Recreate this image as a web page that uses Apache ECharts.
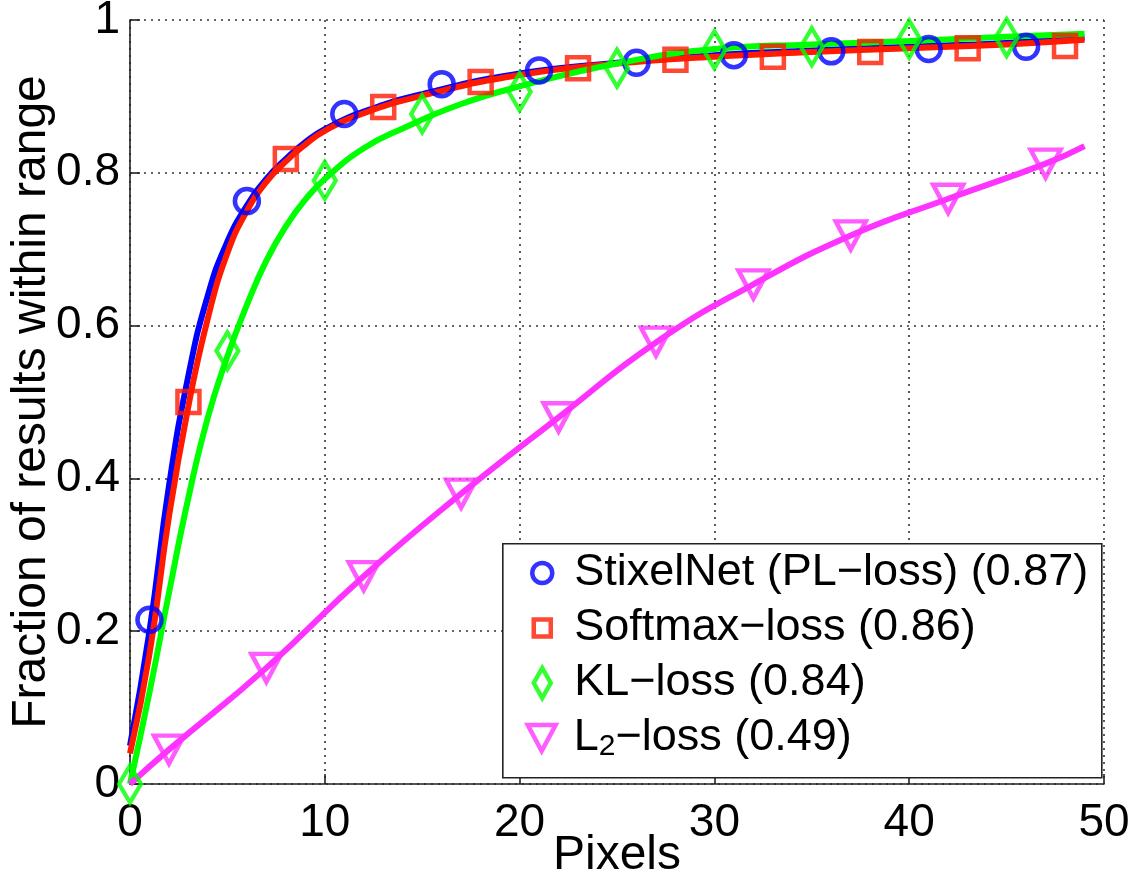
<!DOCTYPE html>
<html><head><meta charset="utf-8">
<script src="https://cdn.jsdelivr.net/npm/echarts@6/dist/echarts.min.js"></script>
<style>html,body{margin:0;padding:0;background:#fff}#c{width:1132px;height:880px}</style>
</head><body><div id="c"></div>
<script>
// ---- data ----
const xTickLabels = ['0', '10', '20', '30', '40', '50'];
const yTickLabels = ['0', '0.2', '0.4', '0.6', '0.8', '1'];
const seriesNames = ['StixelNet (PL−loss) (0.87)', 'Softmax−loss (0.86)', 'KL−loss (0.84)', 'L2−loss (0.49)'];

// curves
const stixelLine = [[0,0.05],[1,0.2],[2,0.39],[3,0.535],[4,0.64],[5,0.71],[6,0.757],[7,0.792],[8,0.818],[9,0.84],[10,0.857],[12,0.88],[15,0.903],[20,0.93],[25,0.944],[30,0.954],[35,0.96],[40,0.965],[45,0.97],[49,0.977]];
const softmaxLine = [[0,0.04],[1,0.17],[2,0.35],[3,0.495],[4,0.61],[5,0.695],[6,0.75],[7,0.788],[8,0.815],[9,0.837],[10,0.855],[12,0.878],[15,0.901],[20,0.928],[25,0.943],[30,0.952],[35,0.958],[40,0.963],[45,0.968],[49,0.974]];
const klLine = [[0,0],[1,0.12],[2,0.25],[3,0.375],[4,0.48],[5,0.56],[6,0.627],[7,0.685],[8,0.73],[9,0.765],[10,0.792],[12,0.832],[14,0.858],[17,0.89],[20,0.913],[25,0.943],[30,0.962],[35,0.968],[40,0.9725],[45,0.978],[49,0.982]];
const l2Line = [[0,0],[2,0.045],[7,0.152],[12,0.272],[17,0.38],[22,0.48],[27,0.578],[32,0.654],[37,0.718],[42,0.766],[47,0.812],[49,0.835]];

// markers
const stixelMarks = [[1,0.215],[6,0.763],[11,0.877],[16,0.916],[21,0.934],[26,0.944],[31,0.954],[36,0.959],[41,0.962],[46,0.965]];
const softmaxMarks = [[3,0.50],[8,0.818],[13,0.886],[18,0.919],[23,0.937],[28,0.948],[33,0.952],[38,0.958],[43,0.963],[48,0.966]];
const klMarks = [[0,0],[5,0.567],[10,0.79],[15,0.877],[20,0.906],[25,0.937],[30,0.961],[35,0.965],[40,0.975],[45,0.977]];
const l2Marks = [[2,0.045],[7,0.152],[12,0.272],[17,0.38],[22,0.48],[27,0.579],[32,0.654],[37,0.718],[42,0.766],[47,0.812]];

// ---- styles ----
const FONT = '"Liberation Sans", Arial, Helvetica, sans-serif';
const FS = 46;      // tick labels
const FSL = 45;     // legend
const FSN = 48;     // axis names
const colors = ['#0000ff', '#ff1a00', '#00ff00', '#ff33ff'];
const lineData = [stixelLine, softmaxLine, klLine, l2Line];
const markData = [stixelMarks, softmaxMarks, klMarks, l2Marks];
const symbols = ['circle', 'rect', 'diamond', 'triangle'];
const symSizes = [24, 22, [22, 37], [30, 28]];
const symRot = [0, 0, 0, 180];

const series = [];
for (let i = 0; i < 4; i++) {
  series.push({
    type: 'line', name: 'line' + i, data: lineData[i], symbol: 'none', showSymbol: false,
    smooth: 0.5, silent: true,
    lineStyle: { color: colors[i], width: 6 }, z: 2
  });
  series.push({
    type: 'scatter', name: seriesNames[i], data: markData[i], symbol: symbols[i],
    symbolSize: symSizes[i], symbolRotate: symRot[i], silent: true,
    itemStyle: { color: 'rgba(255,255,255,0)', borderColor: colors[i], borderWidth: 4.5 }, z: 2
  });
}

// legend: one component per row so each icon can keep its own size
const legIcons = ['circle', 'rect', 'diamond', 'path://M0,0 L30,0 L15,28 Z'];
const legSizes = [[20, 20], [17, 17], [17, 30], [29, 26]];
const rowCenters = [573, 628, 683, 738];
const iconCenterX = 540, textStartX = 572;
const legends = [];
for (let i = 0; i < 4; i++) {
  const w = legSizes[i][0], h = legSizes[i][1];
  legends.push({
    data: [{ name: seriesNames[i], icon: legIcons[i],
      itemStyle: { color: 'rgba(255,255,255,0)', borderColor: colors[i], borderWidth: 4.5 } }],
    left: iconCenterX - w / 2, top: rowCenters[i] - 24, itemWidth: w, itemHeight: h,
    padding: 0, selectedMode: false, z: 6,
    formatter: i === 3 ? '{a|L}{b|2}{a|−loss (0.49)}' : '{name}',
    textStyle: {
      fontSize: FSL, lineHeight: 48, color: '#000', fontFamily: FONT,
      padding: [0, 0, 0, textStartX - (iconCenterX + w / 2 + 5)],
      rich: {
        a: { fontSize: FSL, lineHeight: 48, color: '#000', fontFamily: FONT },
        b: { fontSize: 30, lineHeight: 12, verticalAlign: 'bottom', color: '#000', fontFamily: FONT }
      }
    }
  });
}

const axisCommon = {
  type: 'value',
  nameLocation: 'middle',
  nameMoveOverlap: false,
  nameTextStyle: { fontSize: FSN, color: '#000', fontFamily: FONT },
  axisLine: { show: true, onZero: false, lineStyle: { color: '#222', width: 1.6 } },
  axisTick: { show: true, inside: true, length: 10, lineStyle: { color: '#222', width: 1.6 } },
  splitLine: { show: true, lineStyle: { type: [2, 5], color: '#333', width: 1.6 } }
};

const chart = echarts.init(document.getElementById('c'), null, { renderer: 'canvas' });
chart.setOption({
  animation: false,
  backgroundColor: '#fff',
  grid: { left: 130, right: 28, top: 20, bottom: 96, containLabel: false, outerBoundsMode: 'none' },
  xAxis: Object.assign({}, axisCommon, {
    min: 0, max: 50, interval: 10, name: 'Pixels', nameGap: 48,
    axisLabel: { fontSize: FS, color: '#000', fontFamily: FONT, margin: 16,
      formatter: v => xTickLabels[Math.round(v / 10)] }
  }),
  yAxis: Object.assign({}, axisCommon, {
    min: 0, max: 1, interval: 0.2, name: 'Fraction of results within range', nameGap: 74,
    axisLabel: { fontSize: FS, color: '#000', fontFamily: FONT, margin: 10,
      formatter: v => yTickLabels[Math.round(v / 0.2)] }
  }),
  legend: legends,
  graphic: [{
    type: 'rect', left: 502, top: 543, z: 5,
    shape: { width: 599, height: 234 },
    style: { fill: '#fff', stroke: '#222', lineWidth: 1.6 }
  }],
  series: series
});
</script></body></html>
